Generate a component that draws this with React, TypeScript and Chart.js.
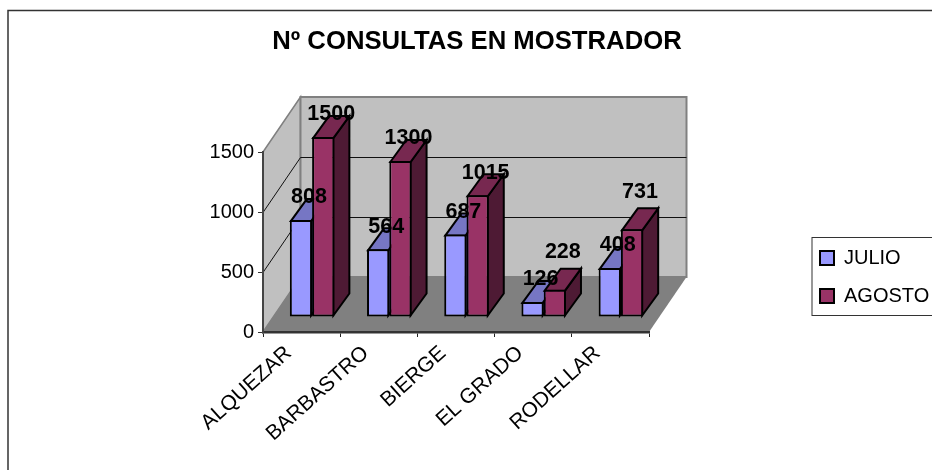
import React, { useEffect, useRef } from "react";
import { Chart, registerables } from "chart.js";

Chart.register(...registerables);

const categories = ["ALQUEZAR", "BARBASTRO", "BIERGE", "EL GRADO", "RODELLAR"];
const julio = [808, 564, 687, 126, 408];
const agosto = [1500, 1300, 1015, 228, 731];
const agostoLabelRaise = [0, 0, 0, 15, 15];
const yTicks = [0, 500, 1000, 1500];
const titleText = "Nº CONSULTAS EN MOSTRADOR";

const FONT = "'Liberation Sans', Arial, sans-serif";
const WALL_DX = 37.5;
const WALL_DY = -55;
const BAR_SHIFT_X = 10.5;
const BAR_SHIFT_Y = -15;
const BAR_DEPTH_X = 16;
const BAR_DEPTH_Y = -22;

const shade = [
  { top: "#7676C4", side: "#4D4D80" },
  { top: "#772850", side: "#4E1A34" },
];

function poly(ctx: CanvasRenderingContext2D, pts: number[][]) {
  ctx.beginPath();
  pts.forEach((p, i) => (i ? ctx.lineTo(p[0], p[1]) : ctx.moveTo(p[0], p[1])));
  ctx.closePath();
}

const scene3d = {
  id: "scene3d",
  afterLayout(chart: any) {
    const lg = chart.legend;
    const pad = lg.options.labels.padding;
    lg.left = 820 - pad;
    lg.right = 1000;
    lg.top = 230;
    lg.bottom = 340;
    const t = chart.titleBlock;
    t.left = 22;
    t.right = 932;
  },
  beforeDraw(chart: any) {
    const ctx: CanvasRenderingContext2D = chart.ctx;
    const { left: l, right: r, top: t, bottom: b } = chart.chartArea;
    const y = chart.scales.y;
    ctx.save();
    ctx.fillStyle = "#fff";
    ctx.fillRect(0, 0, chart.width, chart.height);
    ctx.strokeStyle = "#333";
    ctx.lineWidth = 1.5;
    ctx.strokeRect(8, 10.5, 1000, 1000);

    ctx.lineJoin = "miter";
    ctx.strokeStyle = "#808080";
    ctx.lineWidth = 1.5;
    poly(ctx, [[l, t], [l + WALL_DX, t + WALL_DY], [l + WALL_DX, b + WALL_DY], [l, b]]);
    ctx.fillStyle = "#C0C0C0";
    ctx.fill();
    ctx.stroke();
    ctx.lineWidth = 2;
    poly(ctx, [[l + WALL_DX, t + WALL_DY], [r + WALL_DX, t + WALL_DY], [r + WALL_DX, b + WALL_DY], [l + WALL_DX, b + WALL_DY]]);
    ctx.fill();
    ctx.stroke();
    poly(ctx, [[l, b], [r, b], [r + WALL_DX, b + WALL_DY], [l + WALL_DX, b + WALL_DY]]);
    ctx.fillStyle = "#808080";
    ctx.fill();

    ctx.strokeStyle = "#111";
    ctx.lineWidth = 1;
    yTicks.slice(1, -1).forEach((v) => {
      const py = Math.round(y.getPixelForValue(v)) + 0.5;
      ctx.beginPath();
      ctx.moveTo(l, py);
      ctx.lineTo(l + WALL_DX, py + WALL_DY);
      ctx.lineTo(r + WALL_DX, py + WALL_DY);
      ctx.stroke();
    });

    // legend frame
    ctx.strokeStyle = "#333";
    ctx.lineWidth = 1;
    ctx.fillStyle = "#fff";
    ctx.fillRect(812, 237.5, 200, 78);
    ctx.strokeRect(812, 237.5, 200, 78);
    ctx.restore();
  },
  beforeDatasetsDraw(chart: any) {
    const ctx: CanvasRenderingContext2D = chart.ctx;
    ctx.save();
    ctx.translate(BAR_SHIFT_X, BAR_SHIFT_Y);
    // Depth faces of both series go first, so the fronts the library draws cover them.
    ctx.save();
    ctx.strokeStyle = "#000";
    ctx.lineWidth = 2;
    ctx.lineJoin = "miter";
    [0, 1].forEach((di) => {
      const c = shade[di];
      chart.getDatasetMeta(di).data.forEach((bar: any) => {
        const { x, y, base, width } = bar.getProps(["x", "y", "base", "width"], true);
        const x0 = x - width / 2 + 1;
        const x1 = x + width / 2 - 1;
        const yt = y + 1;
        const yb = base - 1;
        poly(ctx, [[x1, yt], [x1 + BAR_DEPTH_X, yt + BAR_DEPTH_Y], [x1 + BAR_DEPTH_X, yb + BAR_DEPTH_Y], [x1, yb]]);
        ctx.fillStyle = c.side;
        ctx.fill();
        ctx.stroke();
        poly(ctx, [[x0, yt], [x0 + BAR_DEPTH_X, yt + BAR_DEPTH_Y], [x1 + BAR_DEPTH_X, yt + BAR_DEPTH_Y], [x1, yt]]);
        ctx.fillStyle = c.top;
        ctx.fill();
        ctx.stroke();
      });
    });
    ctx.restore();
  },
  afterDatasetsDraw(chart: any) {
    const ctx: CanvasRenderingContext2D = chart.ctx;
    ctx.restore();
    ctx.save();
    ctx.font = `bold 21.5px ${FONT}`;
    ctx.fillStyle = "#000";
    ctx.textAlign = "center";
    ctx.textBaseline = "middle";
    [1, 0].forEach((di) => {
      const meta = chart.getDatasetMeta(di);
      meta.data.forEach((bar: any, i: number) => {
        const { x, y } = bar.getProps(["x", "y"], true);
        const raise = di === 1 ? agostoLabelRaise[i] : 0;
        ctx.fillText(
          String(chart.data.datasets[di].data[i]),
          x + BAR_SHIFT_X + 8,
          y + BAR_SHIFT_Y - 22.5 - raise
        );
      });
    });
    ctx.restore();
  },
};

export default function App() {
  const ref = useRef<HTMLCanvasElement>(null);
  useEffect(() => {
    const chart = new Chart(ref.current as HTMLCanvasElement, {
      type: "bar",
      data: {
        labels: categories,
        datasets: [
          {
            label: "JULIO",
            data: julio,
            backgroundColor: "#9999FF",
            borderColor: "#000",
            borderWidth: 2,
            borderSkipped: false,
            clip: false,
          },
          {
            label: "AGOSTO",
            data: agosto,
            backgroundColor: "#993366",
            borderColor: "#000",
            borderWidth: 2,
            borderSkipped: false,
            clip: false,
          },
        ],
      } as any,
      options: {
        animation: false,
        responsive: false,
        events: [],
        layout: { padding: { left: 0, right: 283, top: 0, bottom: 0 } },
        datasets: { bar: { categoryPercentage: 0.577, barPercentage: 1 } },
        scales: {
          x: {
            afterFit: (s: any) => {
              s.height = 138;
            },
            grid: { drawOnChartArea: false, color: "#222", tickLength: 5, offset: true },
            border: { color: "#333", width: 2.5 },
            ticks: {
              color: "#000",
              font: { family: FONT, size: 21 },
              maxRotation: 42,
              minRotation: 42,
              labelOffset: -13,
              padding: 4,
              autoSkip: false,
            },
          },
          y: {
            min: 0,
            max: 1500,
            afterFit: (s: any) => {
              s.width = 263;
            },
            afterBuildTicks: (s: any) => {
              s.ticks = yTicks.map((value) => ({ value }));
            },
            grid: { drawOnChartArea: false, color: "#333", tickLength: 5 },
            border: { color: "#444", width: 2 },
            ticks: {
              color: "#000",
              font: { family: FONT, size: 20 },
              padding: 4,
              callback: (v: any) => String(v),
            },
          },
        },
        plugins: {
          title: {
            display: true,
            text: titleText,
            color: "#000",
            font: { family: FONT, size: 25.7, weight: "bold", lineHeight: 1.2 },
            padding: { top: 26.6, bottom: 94.6 },
          },
          legend: {
            position: "chartArea",
            align: "start",
            labels: {
              color: "#000",
              font: { family: FONT, size: 20 },
              boxWidth: 14,
              boxHeight: 14,
              padding: 18,
            },
          },
          tooltip: { enabled: false },
        },
      } as any,
      plugins: [scene3d],
    });
    return () => chart.destroy();
  }, []);
  return (
    <canvas
      ref={ref}
      width={932}
      height={470}
      style={{ position: "absolute", left: 0, top: 0, display: "block" }}
    />
  );
}
